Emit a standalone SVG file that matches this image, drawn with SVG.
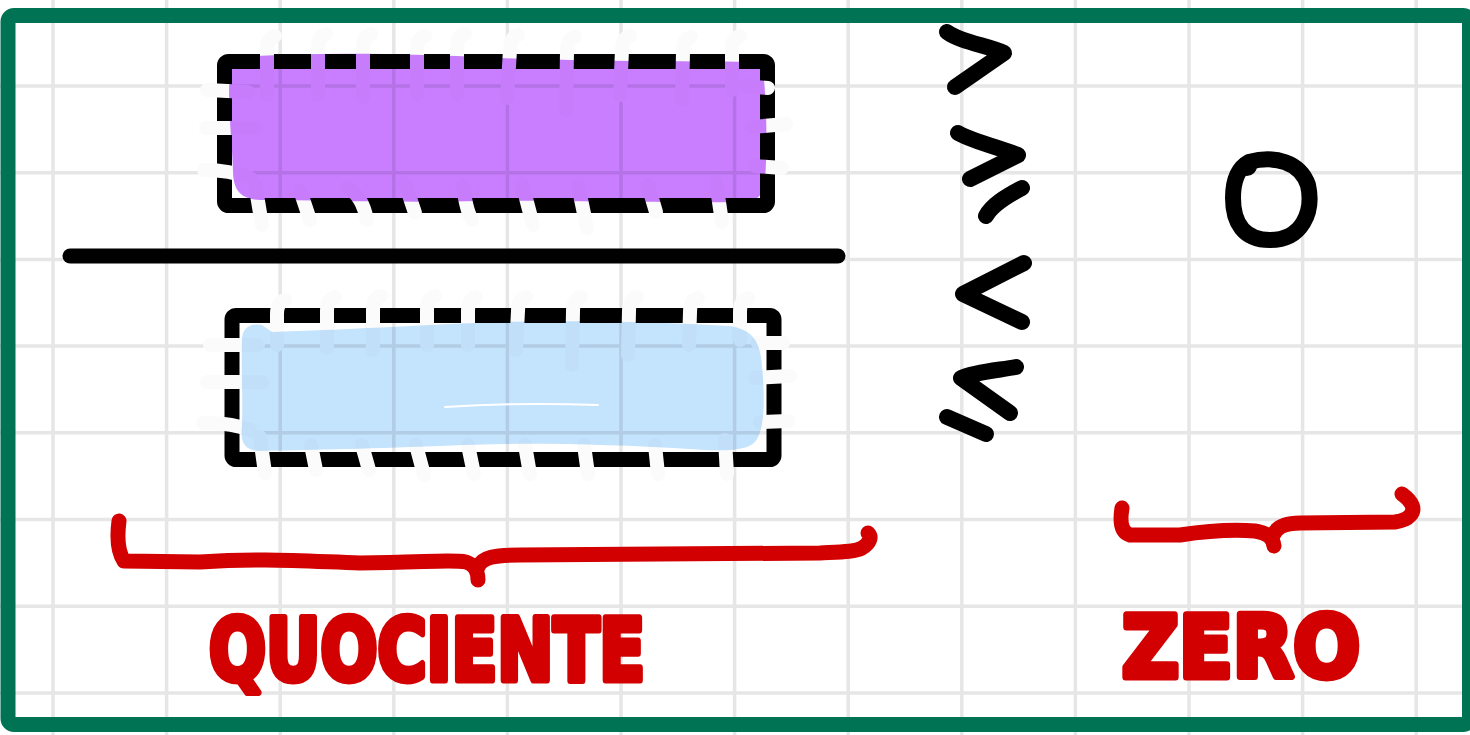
<svg xmlns="http://www.w3.org/2000/svg" width="1470" height="735" viewBox="0 0 1470 735">
<style>
.grid line{stroke:#e6e6e6;stroke-width:3.5}
.ink{fill:none;stroke:#000;stroke-width:16;stroke-linecap:round;stroke-linejoin:round}
.box{fill:none;stroke:#000;stroke-width:15;stroke-linejoin:round}
.er{fill:none;stroke:#fbfbfb;stroke-width:14;stroke-linecap:round;stroke-linejoin:round}
.red{fill:none;stroke:#d20000;stroke-width:15;stroke-linecap:round;stroke-linejoin:round}
.lbl{fill:#d20000;stroke:#d20000;stroke-width:7;stroke-linejoin:round;font-family:"DejaVu Sans","Liberation Sans",sans-serif;font-weight:bold;font-size:86px}
.hl{mix-blend-mode:multiply}
</style>
<rect width="1470" height="735" fill="#fff"/>
<g class="grid" id="grid">
<line x1="53" y1="0" x2="53" y2="735"/><line x1="166.6" y1="0" x2="166.6" y2="735"/><line x1="280.2" y1="0" x2="280.2" y2="735"/><line x1="393.8" y1="0" x2="393.8" y2="735"/><line x1="507.4" y1="0" x2="507.4" y2="735"/><line x1="621" y1="0" x2="621" y2="735"/><line x1="734.6" y1="0" x2="734.6" y2="735"/><line x1="848.2" y1="0" x2="848.2" y2="735"/><line x1="961.8" y1="0" x2="961.8" y2="735"/><line x1="1075.4" y1="0" x2="1075.4" y2="735"/><line x1="1189" y1="0" x2="1189" y2="735"/><line x1="1302.6" y1="0" x2="1302.6" y2="735"/><line x1="1416.2" y1="0" x2="1416.2" y2="735"/>
<line x1="0" y1="86" x2="1470" y2="86"/><line x1="0" y1="172.7" x2="1470" y2="172.7"/><line x1="0" y1="259.4" x2="1470" y2="259.4"/><line x1="0" y1="346.1" x2="1470" y2="346.1"/><line x1="0" y1="432.8" x2="1470" y2="432.8"/><line x1="0" y1="519.5" x2="1470" y2="519.5"/><line x1="0" y1="606.2" x2="1470" y2="606.2"/><line x1="0" y1="692.9" x2="1470" y2="692.9"/>
</g>

<g id="numerator">
<rect class="box" x="224.5" y="61.5" width="543" height="144" rx="4"/>
<g class="er">
<path d="M275,36 Q267,38 267,50 L267,95"/><path d="M326,34 Q318,36 318,48 L318,95"/><path d="M371,34 Q363,36 363,48 L363,97"/><path d="M425,36 Q417,38 417,50 L417,95"/><path d="M465,34 Q457,36 457,48 L457,95"/><path d="M518,35 Q510,37 510,50 L507,98"/><path d="M575,37 Q567,39 567,52 L566,110"/><path d="M630,36 Q622,38 622,50 L620,95"/><path d="M691,37 Q683,39 683,52 L682,100"/><path d="M740,36 Q732,38 732,50 L732,90"/>
<path d="M255,183 L262,225"/><path d="M300,190 L310,220"/><path d="M347,187 Q362,195 367,220"/><path d="M405,183 L415,213"/><path d="M463,185 Q466,210 472,220"/><path d="M522,183 L533,225"/><path d="M578,185 L587,228"/><path d="M648,185 L656,212"/><path d="M716,182 L722,222"/>
<path d="M207,90 L248,92"/><path d="M206,128 L256,128"/><path d="M204,170 Q230,170 250,178"/>
<path d="M745,86 L768,88"/><path d="M752,127 L786,124"/><path d="M755,166 L782,168"/>
</g>
<path class="hl" fill="#c97eff" d="M230,72 C228,62 240,56 257,56 C330,52 420,54 500,58 C600,62 700,61 762,62 C766,90 768,140 765,180 C764,196 758,201 740,202 C650,203 560,200 480,201 C400,203 320,200 260,200 C240,199 233,190 233,170 C232,140 227,100 230,72 Z"/>
</g>

<line id="fraction-bar" x1="70" y1="256" x2="838" y2="256" stroke="#000" stroke-width="15" stroke-linecap="round"/>

<g id="denominator">
<rect class="box" x="232" y="315.5" width="542" height="144" rx="4"/>
<g class="er">
<path d="M285,300 Q277,302 277,314 L277,345"/><path d="M335,297 Q327,299 327,311 L327,348"/><path d="M381,296 Q373,298 373,310 L373,350"/><path d="M435,296 Q427,298 427,310 L427,345"/><path d="M476,297 Q468,299 468,311 L468,345"/><path d="M526,297 Q518,299 518,311 L516,350"/><path d="M581,297 Q573,299 573,311 L572,365"/><path d="M637,297 Q629,299 629,311 L628,355"/><path d="M698,298 Q690,300 690,312 L689,345"/><path d="M748,298 Q740,300 740,312 L740,340"/>
<path d="M260,437 L265,473"/><path d="M311,445 L316,470"/><path d="M362,445 L369,470"/><path d="M416,445 L424,475"/><path d="M468,445 L474,474"/><path d="M525,445 L530,474"/><path d="M584,445 L588,474"/><path d="M655,445 L658,474"/><path d="M725,440 L727,474"/>
<path d="M210,345 L258,345"/><path d="M207,382 L262,382"/><path d="M203,423 Q230,422 250,430"/>
<path d="M758,343 L783,343"/><path d="M755,378 L790,376"/><path d="M760,422 L788,421"/>
</g>
<path class="hl" fill="#c4e3fd" d="M242,340 C242,328 250,323 262,325 L272,332 C340,330 420,325 500,322 C580,320 660,322 730,326 C752,330 760,340 762,365 C765,400 765,430 755,442 C745,452 720,451 690,449 C600,444 520,442 440,446 C360,449 300,450 260,451 C245,450 240,444 242,425 C243,395 241,365 242,340 Z"/>
<path d="M445,407 Q520,402 598,405" fill="none" stroke="#fff" stroke-width="2" stroke-linecap="round"/>
</g>

<g id="relations">
<path class="ink" d="M947,32 C960,42 990,46 1004,53 L955,87"/>
<path class="ink" d="M958,133 C975,142 1000,148 1018,155 L970,179"/>
<path class="ink" d="M1022,188 C1005,197 992,205 986,216"/>
<path class="ink" d="M1024,263 L963,294 L1022,322"/>
<path class="ink" d="M1016,367 C1000,370 975,372 961,378 L1010,413"/>
<path class="ink" d="M947,417 L986,434"/>
</g>

<g id="zero-digit">
<path class="ink" stroke-width="16" d="M1249,162 C1275,155 1300,162 1308,185 C1314,212 1302,240 1270,240 C1243,240 1233,222 1233,198 C1233,180 1238,168 1249,162 Z"/>
<circle cx="1247" cy="166" r="10" fill="#000"/>
</g>

<g id="braces">
<path class="red" d="M119,521 C117,536 118,552 124,561 L200,562 C260,558 300,561 360,563 C420,563 450,559 466,562 C475,565 478,571 478,580"/>
<path class="red" d="M478,567 C482,557 495,555 520,555 L820,553 C840,552 855,552 862,548 C870,543 872,537 868,533"/>
<path class="red" d="M1122,508 C1120,520 1120,532 1130,535 L1180,535 C1200,532 1230,529 1255,531 C1268,533 1273,538 1274,546"/>
<path class="red" d="M1274,534 C1278,525 1290,523 1300,523 L1395,522 C1410,520 1415,512 1412,505 C1410,500 1406,497 1402,494"/>
</g>

<g id="labels">
<text class="lbl" x="209" y="680" textLength="436" lengthAdjust="spacingAndGlyphs">QUOCIENTE</text>
<text class="lbl" x="1122" y="677" textLength="238" lengthAdjust="spacingAndGlyphs">ZERO</text>
</g>

<rect id="frame" x="8" y="15.5" width="1461.5" height="709" rx="6" fill="none" stroke="#007354" stroke-width="15"/>
</svg>
